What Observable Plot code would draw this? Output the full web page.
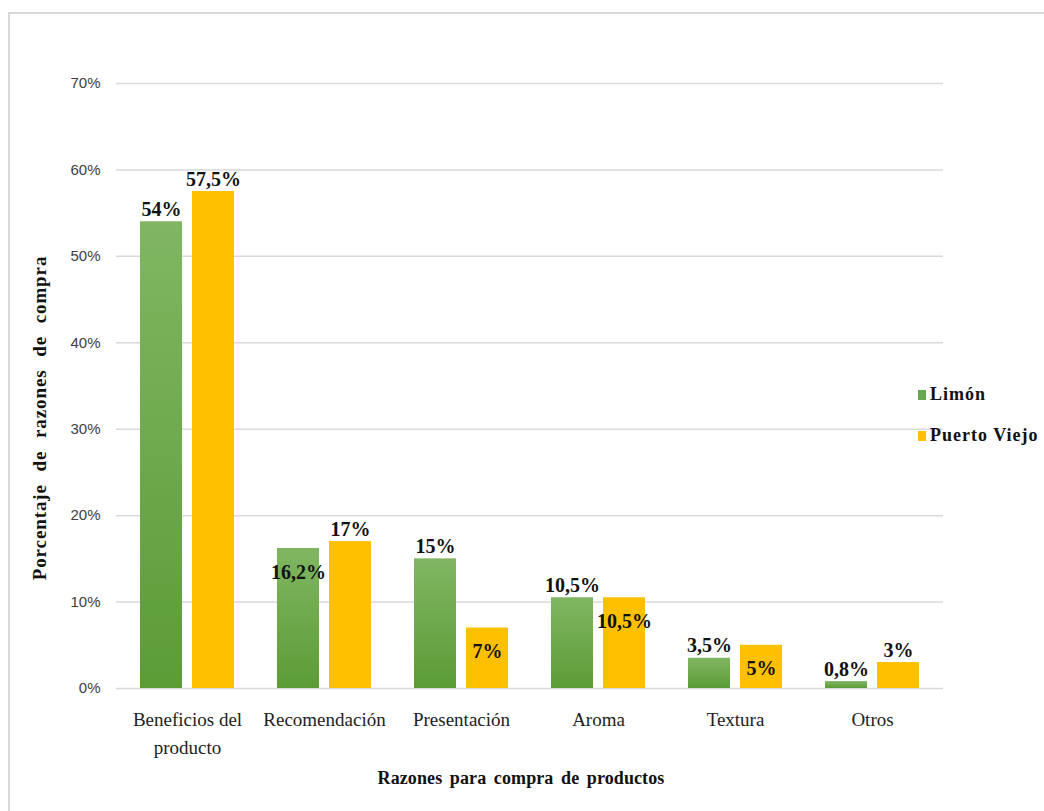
<!DOCTYPE html>
<html>
<head>
<meta charset="utf-8">
<script src="https://cdn.jsdelivr.net/npm/d3@7"></script>
<script src="https://cdn.jsdelivr.net/npm/@observablehq/plot@0.6"></script>
<style>
  html, body { margin: 0; padding: 0; background: #fff; }
  #wrap { position: relative; width: 1044px; height: 811px; overflow: hidden; background: #fff; }
  #frame { position: absolute; left: 8px; top: 12px; width: 1100px; height: 900px; border-top: 2px solid #d9d9d9; border-left: 2px solid #d9d9d9; }
  #chart { position: absolute; left: 0; top: 0; }
  .ytitle { position: absolute; left: 40px; top: 418px; transform: translate(-50%, -50%) rotate(-90deg); white-space: nowrap;
            font-family: "Liberation Serif", "Times New Roman", serif; font-weight: bold; font-size: 19px; word-spacing: 7px; letter-spacing: 0.9px; color: #111; }
  .xtitle { position: absolute; left: 521px; top: 778px; transform: translate(-50%, -50%); white-space: nowrap;
            font-family: "Liberation Serif", "Times New Roman", serif; font-weight: bold; font-size: 18px; word-spacing: 3px; letter-spacing: 0.1px; color: #111; }
  .legend { position: absolute; left: 918px; font-family: "Liberation Serif", "Times New Roman", serif; font-weight: bold; font-size: 18px; color: #111; white-space: nowrap; letter-spacing: 1px; }
  .legend .sw { display: inline-block; width: 8px; height: 10px; margin-right: 4px; vertical-align: 0px; }
</style>
</head>
<body>
<div id="wrap">
  <div id="frame"></div>
  <div id="chart"></div>
  <div class="ytitle">Porcentaje de razones de compra</div>
  <div class="xtitle">Razones para compra de productos</div>
  <div id="legend"></div>
</div>
<script>
// ---- data ----
const categories = ["Beneficios del producto", "Recomendación", "Presentación", "Aroma", "Textura", "Otros"];
const categoryTickLabels = ["Beneficios del\nproducto", "Recomendación", "Presentación", "Aroma", "Textura", "Otros"];
const series = ["Limón", "Puerto Viejo"];
const limonValues = [0.54, 0.162, 0.15, 0.105, 0.035, 0.008];
const puertoViejoValues = [0.575, 0.17, 0.07, 0.105, 0.05, 0.03];
const limonLabels = ["54%", "16,2%", "15%", "10,5%", "3,5%", "0,8%"];
const puertoViejoLabels = ["57,5%", "17%", "7%", "10,5%", "5%", "3%"];
const yTicks = [0, 0.1, 0.2, 0.3, 0.4, 0.5, 0.6, 0.7];
const yTickLabels = ["0%", "10%", "20%", "30%", "40%", "50%", "60%", "70%"];

// ---- build tables ----
const colors = { "Limón": "url(#greenGrad)", "Puerto Viejo": "#ffc000" };
const legendColors = { "Limón": "#6aa84f", "Puerto Viejo": "#ffc000" };
// labels drawn inside the top of their bar (as in the source)
const insideLabels = new Set(["Limón|Recomendación", "Puerto Viejo|Presentación", "Puerto Viejo|Aroma", "Puerto Viejo|Textura"]);

const limonData = categories.map((c, i) => ({ cat: c, v: limonValues[i], label: limonLabels[i], s: "Limón" }));
const pvData = categories.map((c, i) => ({ cat: c, v: puertoViejoValues[i], label: puertoViejoLabels[i], s: "Puerto Viejo" }));
const isInside = d => insideLabels.has(d.s + "|" + d.cat);

const serif = "'Liberation Serif', 'Times New Roman', serif";
const defs = () => {
  const g = d3.create("svg:defs");
  const lg = g.append("linearGradient").attr("id", "greenGrad").attr("x1", 0).attr("y1", 0).attr("x2", 0).attr("y2", 1);
  lg.append("stop").attr("offset", "0%").attr("stop-color", "#80b662");
  lg.append("stop").attr("offset", "100%").attr("stop-color", "#5c9c37");
  return g.node();
};

const shadow = "drop-shadow(1px 1px 1px rgba(0,0,0,0.22))";
const labelOpts = (dx) => ({
  x: "cat", y: "v", text: "label", dx,
  fontFamily: serif, fontWeight: "bold", fontSize: 20, fill: "#111"
});

const chart = Plot.plot({
  width: 1044,
  height: 811,
  marginLeft: 116,
  marginRight: 101,
  marginTop: 83,
  marginBottom: 123,
  style: { fontFamily: serif, background: "transparent" },
  x: { domain: categories, paddingInner: 0.316, paddingOuter: 0.158, label: null },
  y: { domain: [0, 0.7], label: null },
  marks: [
    defs,
    Plot.ruleY(yTicks, { stroke: "#d9d9d9", strokeWidth: 1.5 }),
    Plot.barY(limonData, { x: "cat", y: "v", fill: colors["Limón"], insetRight: 52, style: { filter: shadow } }),
    Plot.barY(pvData, { x: "cat", y: "v", fill: colors["Puerto Viejo"], insetLeft: 52, style: { filter: shadow } }),
    Plot.text(limonData, { ...labelOpts(-26), filter: d => !isInside(d), lineAnchor: "bottom", dy: -6 }),
    Plot.text(limonData, { ...labelOpts(-26), filter: d => isInside(d), lineAnchor: "top", dy: 16 }),
    Plot.text(pvData, { ...labelOpts(26), filter: d => !isInside(d), lineAnchor: "bottom", dy: -6 }),
    Plot.text(pvData, { ...labelOpts(26), filter: d => isInside(d), lineAnchor: "top", dy: 16 }),
    Plot.axisY(yTicks, {
      tickSize: 0, tickPadding: 16, fontSize: 15, fill: "#404040",
      fontFamily: "'Liberation Sans', Arial, sans-serif",
      tickFormat: (d) => yTickLabels[yTicks.indexOf(d)], label: null
    }),
    Plot.axisX({
      tickSize: 0, tickPadding: 17, fontSize: 19, fill: "#222", lineHeight: 1.5,
      fontFamily: serif,
      tickFormat: d => categoryTickLabels[categories.indexOf(d)], label: null
    })
  ]
});
document.getElementById("chart").appendChild(chart);

// legend
const legend = document.getElementById("legend");
const tops = [384, 425];
series.forEach((s, i) => {
  const el = document.createElement("div");
  el.className = "legend";
  el.style.top = tops[i] + "px";
  el.innerHTML = `<span class="sw" style="background:${legendColors[s]}"></span>${s}`;
  legend.appendChild(el);
});
</script>
</body>
</html>
